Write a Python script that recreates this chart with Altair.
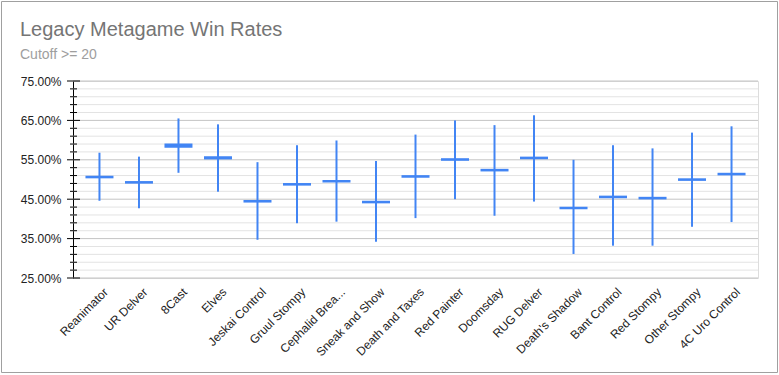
import altair as alt
import pandas as pd

categories = ["Reanimator", "UR Delver", "8Cast", "Elves", "Jeskai Control", "Gruul Stompy",
              "Cephalid Brea...", "Sneak and Show", "Death and Taxes", "Red Painter", "Doomsday",
              "RUG Delver", "Death's Shadow", "Bant Control", "Red Stompy", "Other Stompy",
              "4C Uro Control"]
low = [44.6, 42.7, 51.7, 46.9, 34.7, 38.9, 39.3, 34.2, 40.2, 45.0, 40.8, 44.4, 31.1, 33.2, 33.2, 38.0, 39.2]
high = [56.8, 55.8, 65.5, 64.0, 54.4, 58.7, 59.9, 54.7, 61.4, 65.0, 63.8, 66.3, 55.0, 58.7, 57.9, 61.9, 63.5]
box_open = [50.55, 49.2, 58.3, 55.35, 44.4, 48.7, 49.5, 44.2, 50.7, 55.0, 52.3, 55.4, 42.7, 45.5, 45.2, 49.9, 51.3]
box_close = [50.7, 49.35, 58.9, 55.65, 44.55, 48.85, 49.65, 44.35, 50.85, 55.15, 52.45, 55.55, 42.85, 45.65, 45.35, 50.05, 51.45]

major_ticks = [0.25, 0.35, 0.45, 0.55, 0.65, 0.75]
minor_ticks = [v / 100 for v in range(25, 76, 2) if v % 10 != 5]

title_text = "Legacy Metagame Win Rates"
subtitle_text = "Cutoff >= 20"

df = pd.DataFrame({
    "deck": categories,
    "low": [v / 100 for v in low],
    "high": [v / 100 for v in high],
    "open": [v / 100 for v in box_open],
    "close": [v / 100 for v in box_close],
})
major_df = pd.DataFrame({"v": major_ticks})
minor_df = pd.DataFrame({"v": minor_ticks})
frame_df = pd.DataFrame({"a": [0]})
title_df = pd.DataFrame({"t": [title_text]})
subtitle_df = pd.DataFrame({"t": [subtitle_text]})

FONT = "Liberation Sans"
BLUE = "#4285F4"

yscale = alt.Scale(domain=[0.25, 0.75], nice=False, zero=False)
yaxis = alt.Axis(values=major_ticks, format=".2%", labelFontSize=12,
                 labelColor="#222222", labelFont=FONT, ticks=False, tickSize=0,
                 grid=False, domain=True, domainColor="#000000",
                 labelPadding=12, labelOverlap=False, title=None)
xenc = alt.X("deck:N", sort=categories, title=None,
             scale=alt.Scale(paddingOuter=0.17, paddingInner=0),
             axis=alt.Axis(labelAngle=-45, labelFontSize=12, labelColor="#222222",
                           labelFont=FONT, domain=False, ticks=False, grid=False,
                           labelPadding=8, labelOffset=3, labelOverlap=False))

minor_grid = alt.Chart(minor_df).mark_rule(color="#e3e3e3", strokeWidth=1).encode(
    y=alt.Y("v:Q", scale=yscale, axis=yaxis, title=None))
major_grid = alt.Chart(major_df).mark_rule(color="#c4c4c4", strokeWidth=1).encode(
    y=alt.Y("v:Q", scale=yscale, axis=yaxis, title=None))
minor_tick = alt.Chart(minor_df).mark_rule(color="#000000", strokeWidth=1).encode(
    y=alt.Y("v:Q", scale=yscale, axis=yaxis, title=None), x=alt.value(-3), x2=alt.value(4))
major_tick = alt.Chart(major_df).mark_rule(color="#000000", strokeWidth=1).encode(
    y=alt.Y("v:Q", scale=yscale, axis=yaxis, title=None), x=alt.value(-6), x2=alt.value(7))

whisker = alt.Chart(df).mark_rule(color=BLUE, strokeWidth=2).encode(
    x=xenc, y=alt.Y("low:Q", scale=yscale, axis=yaxis, title=None), y2="high:Q")
box = alt.Chart(df).mark_bar(color=BLUE, stroke=BLUE, strokeWidth=2, size=26).encode(
    x=xenc, y=alt.Y("open:Q", scale=yscale, axis=yaxis, title=None), y2="close:Q")

frame = alt.Chart(frame_df).mark_rect(fill=None, stroke="#a0a0a0", strokeWidth=1).encode(
    x=alt.value(-71.5), x2=alt.value(704.5), y=alt.value(-79.5), y2=alt.value(291.5))

title = alt.Chart(title_df).mark_text(font=FONT, fontSize=20, color="#757575",
                                      align="left", baseline="alphabetic").encode(
    text="t:N", x=alt.value(-53), y=alt.value(-45))
subtitle = alt.Chart(subtitle_df).mark_text(font=FONT, fontSize=14, color="#9e9e9e",
                                            align="left", baseline="alphabetic").encode(
    text="t:N", x=alt.value(-53), y=alt.value(-22))

chart = alt.layer(minor_grid, major_grid, minor_tick, major_tick, whisker, box,
                  frame, title, subtitle).properties(
    width=685, height=197,
    padding={"left": 73, "top": 81, "right": 21, "bottom": 97},
    autosize=alt.AutoSizeParams(type="none"),
).configure_view(stroke=None).configure_axisY(labelOverlap=False).configure(background="white")

chart.save("out.html", embed_options={"renderer": "svg", "actions": False})
